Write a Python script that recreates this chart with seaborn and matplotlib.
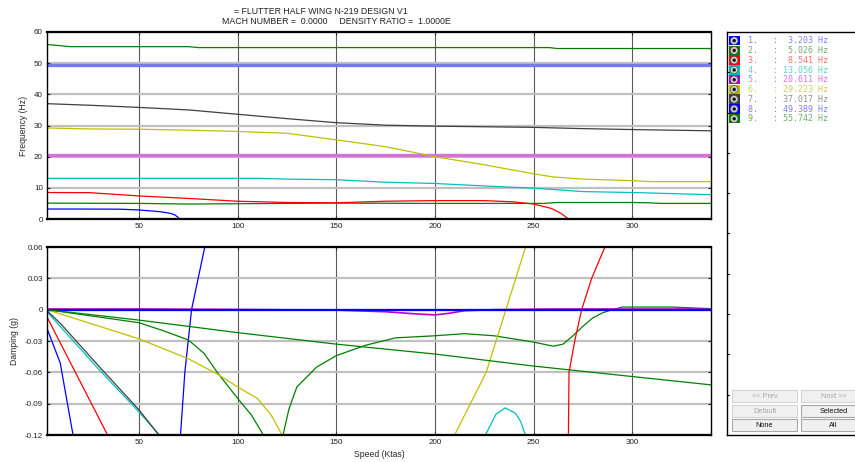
import matplotlib
matplotlib.use("Agg")
import matplotlib.pyplot as plt
import seaborn as sns
from matplotlib.patches import Rectangle, Circle

# ---- frequency curves (speed in Ktas, frequency in Hz)
f1_spd = [3.3, 20, 40, 50, 60.6, 66, 68.2, 70.7, 340]
f1_hz = [3.2, 3.2, 3.15, 2.9, 2.35, 1.8, 1.3, 0, 0]
f2_spd = [3.3, 50, 75, 100, 150, 200, 255, 262, 300, 308, 315, 340]
f2_hz = [5.1, 5.0, 4.8, 4.9, 5.1, 5.0, 5.0, 5.3, 5.3, 5.2, 5.0, 5.0]
f3_spd = [3.3, 25, 50, 75, 100, 125, 150, 175, 200, 225, 240, 250, 259, 264, 267.7, 340]
f3_hz = [8.5, 8.45, 7.4, 6.6, 5.7, 5.3, 5.2, 5.7, 5.9, 5.9, 5.5, 4.8, 3.4, 1.8, 0, 0]
f4_spd = [3.3, 50, 110, 125, 150, 175, 200, 225, 250, 275, 300, 340]
f4_hz = [13.05, 13.05, 13.05, 12.8, 12.6, 11.8, 11.4, 10.6, 9.9, 8.8, 8.5, 7.8]
f5_spd = [3.3, 340]
f5_hz = [20.6, 20.6]
f6_spd = [3.3, 25, 50, 75, 100, 125, 150, 175, 200, 225, 250, 260, 275, 300, 310, 340]
f6_hz = [29.2, 28.9, 28.8, 28.5, 28.1, 27.5, 25.4, 23.2, 20.0, 17.4, 14.5, 13.5, 12.8, 12.3, 12.0, 12.0]
f7_spd = [3.3, 25, 50, 75, 100, 125, 150, 175, 200, 225, 250, 275, 300, 340]
f7_hz = [37.0, 36.5, 35.8, 35.0, 33.6, 32.2, 30.9, 30.1, 29.8, 29.6, 29.4, 29.0, 28.7, 28.3]
f8_spd = [3.3, 340]
f8_hz = [49.4, 49.4]
f9_spd = [3.3, 15, 75, 80, 258, 262, 340]
f9_hz = [56.0, 55.3, 55.3, 55.0, 55.0, 54.7, 54.7]

# ---- damping curves (g); values outside the axis range leave and re-enter
g1_spd = [3.3, 10, 16.5, 30, 50, 65, 71, 73.2, 76.6, 83.3, 90]
g1_g = [-0.018, -0.051, -0.12, -0.25, -0.3, -0.25, -0.12, -0.06, 0.0, 0.06, 0.12]
g2_spd = [3.3, 50, 62, 75, 83, 90, 100, 107, 113, 118, 123, 126, 130, 140, 150, 165, 180,
          200, 215, 230, 250, 260, 265, 270, 275, 280, 285, 290, 295, 320, 340]
g2_g = [0.0, -0.0125, -0.02, -0.029, -0.042, -0.061, -0.085, -0.101, -0.12, -0.14, -0.12,
        -0.095, -0.074, -0.055, -0.044, -0.034, -0.027, -0.025, -0.023, -0.025, -0.031,
        -0.035, -0.033, -0.025, -0.016, -0.008, -0.003, 0.0, 0.0025, 0.0025, 0.001]
g3_spd = [3.3, 34, 60, 150, 250, 266, 267.7, 268, 271, 274.4, 279.5, 286.2, 292]
g3_g = [-0.007, -0.12, -0.25, -0.4, -0.3, -0.18, -0.12, -0.06, -0.029, 0.0, 0.03, 0.06, 0.09]
g4_spd = [3.3, 10, 30, 50, 60.3, 100, 200, 225.6, 231, 235.7, 240.7, 243.5, 245.8, 260]
g4_g = [-0.002, -0.016, -0.058, -0.098, -0.12, -0.2, -0.2, -0.12, -0.1, -0.094, -0.099,
        -0.107, -0.12, -0.2]
g5_spd = [3.3, 50, 100, 150, 175, 190, 200, 207, 215, 230, 260, 340]
g5_g = [0.0006, 0.0006, 0.0002, -0.0004, -0.002, -0.004, -0.005, -0.0035, -0.001, 0.0,
        0.0006, 0.0006]
g6_spd = [3.3, 50, 75, 90, 100, 110, 117, 122.5, 150, 200, 210, 218, 226, 231, 236, 241, 246, 251]
g6_g = [0.0, -0.028, -0.047, -0.062, -0.074, -0.085, -0.101, -0.12, -0.2, -0.2, -0.12,
        -0.09, -0.06, -0.03, 0.0, 0.03, 0.06, 0.09]
g7_spd = [3.3, 10, 30, 50, 60, 70]
g7_g = [-0.001, -0.013, -0.055, -0.096, -0.12, -0.14]
g8_spd = [3.3, 340]
g8_g = [0.0, 0.0]
g9_spd = [3.3, 50, 100, 150, 200, 250, 300, 340]
g9_g = [0.0, -0.010, -0.022, -0.033, -0.0425, -0.054, -0.064, -0.072]

# ---- mode table
mode_freq = [3.203, 5.026, 8.541, 13.056, 20.611, 29.223, 37.017, 49.389, 55.742]
mode_color = ['#0000ff', '#008000', '#ff0000', '#00c0c0', '#c000c0',
              '#c0c000', '#404040', '#0000ff', '#008000']
mode_text_color = ['#8080ff', '#70b070', '#ff7070', '#60d0d0', '#e070e0',
                   '#d0d060', '#909090', '#8080ff', '#70b070']
freq_color = ['#0000ff', '#008000', '#ff0000', '#00c0c0', '#d870d8',
              '#c0c000', '#404040', '#7878f0', '#008000']
freq_width = [0.9, 0.9, 0.9, 0.9, 2.4, 0.9, 0.9, 2.4, 0.9]
damp_width = [0.9, 0.9, 0.9, 0.9, 1.2, 0.9, 0.9, 1.6, 0.9]

freq_ticks = [0, 10, 20, 30, 40, 50, 60]
damp_ticks = [-0.12, -0.09, -0.06, -0.03, 0, 0.03, 0.06]
damp_labels = ['-0.12', '-0.09', '-0.06', '-0.03', '0', '0.03', '0.06']
speed_ticks = [50, 100, 150, 200, 250, 300]

freq_curves = [(f1_spd, f1_hz), (f2_spd, f2_hz), (f3_spd, f3_hz), (f4_spd, f4_hz),
               (f5_spd, f5_hz), (f6_spd, f6_hz), (f7_spd, f7_hz), (f8_spd, f8_hz),
               (f9_spd, f9_hz)]
damp_curves = [(g1_spd, g1_g), (g2_spd, g2_g), (g3_spd, g3_g), (g4_spd, g4_g),
               (g5_spd, g5_g), (g6_spd, g6_g), (g7_spd, g7_g), (g8_spd, g8_g),
               (g9_spd, g9_g)]

sns.set_style("white")
plt.rcParams['font.family'] = ['Liberation Sans', 'DejaVu Sans']

W, H = 855, 462
fig = plt.figure(figsize=(W / 100, H / 100), dpi=100)
ax1 = fig.add_axes([47 / W, 1 - 219 / H, 664 / W, 187 / H])
ax2 = fig.add_axes([47 / W, 1 - 435 / H, 664 / W, 188 / H])


def style_axes(ax, yticks, ylim):
    ax.set_xlim(3.3, 340)
    ax.set_ylim(*ylim)
    ax.set_xticks(speed_ticks)
    ax.set_yticks(yticks)
    ax.set_axisbelow(True)
    ax.xaxis.grid(True, color='#5a5a5a', lw=0.8)
    ax.yaxis.grid(True, color='#c0c0c0', lw=1.6)
    ax.tick_params(direction='in', top=True, right=True, bottom=True, left=True,
                   length=2.5, width=0.8, labelsize=5.8, pad=3, colors='#222222')
    for side in ['left', 'right']:
        ax.spines[side].set_linewidth(1.0)
        ax.spines[side].set_color('black')
    for side in ['top', 'bottom']:
        ax.spines[side].set_linewidth(1.6)
        ax.spines[side].set_color('black')


for i, (x, y) in enumerate(freq_curves):
    sns.lineplot(x=x, y=y, ax=ax1, color=freq_color[i], lw=freq_width[i],
                 sort=False, estimator=None, legend=False)
style_axes(ax1, freq_ticks, (0, 60))
ax1.set_xlabel('')
ax1.set_ylabel('Frequency (Hz)', fontsize=6.2, labelpad=4)

for i, (x, y) in enumerate(damp_curves):
    sns.lineplot(x=x, y=y, ax=ax2, color=mode_color[i], lw=damp_width[i],
                 sort=False, estimator=None, legend=False)
style_axes(ax2, damp_ticks, (-0.12, 0.06))
ax2.set_yticklabels(damp_labels)
ax2.set_xlabel('Speed (Ktas)', fontsize=6.2, labelpad=2.5)
ax2.set_ylabel('Damping (g)', fontsize=6.2, labelpad=4)

fig.text(321 / W, 1 - 11 / H, '= FLUTTER HALF WING N-219 DESIGN V1',
         ha='center', va='center', fontsize=6.3, color='#222222')
fig.text(336 / W, 1 - 22 / H, 'MACH NUMBER =  0.0000     DENSITY RATIO =  1.0000E',
         ha='center', va='center', fontsize=6.3, color='#222222')

# ---- mode selector panel (pixel coordinates)
px0, px1, py0, py1 = 727, 866, 32, 435
axp = fig.add_axes([px0 / W, 1 - py1 / H, (px1 - px0) / W, (py1 - py0) / H])
axp.set_xlim(px0, px1)
axp.set_ylim(py1, py0)
axp.set_xticks([])
axp.set_yticks([])
axp.spines['right'].set_visible(False)
for side in ['left', 'top', 'bottom']:
    axp.spines[side].set_linewidth(1.0)
    axp.spines[side].set_color('black')
for k in range(1, 10):
    ty = py0 + k * (py1 - py0) / 10
    axp.plot([px0, px0 + 1.5], [ty, ty], color='black', lw=0.8)

for i, f in enumerate(mode_freq):
    top = 36 + i * 9.75
    axp.add_patch(Rectangle((729, top), 10.5, 9.3, facecolor=mode_color[i],
                            edgecolor='none'))
    axp.add_patch(Circle((734.2, top + 4.7), 3.8, facecolor='#d0d0d0',
                         edgecolor='#404040', lw=0.4))
    axp.add_patch(Circle((734.2, top + 4.7), 1.7, facecolor='#101010',
                         edgecolor='none'))
    axp.text(748, top + 4.8, f"{i + 1}.   : {f:6.3f} Hz", family='DejaVu Sans Mono',
             fontsize=6, color=mode_text_color[i], va='center', ha='left')

buttons = [('<< Prev', 732, 390, False), ('Next >>', 801, 390, False),
           ('Default', 732, 405, False), ('Selected', 801, 405, True),
           ('None', 732, 419, True), ('All', 801, 419, True)]
for label, bx, by, active in buttons:
    axp.add_patch(Rectangle((bx, by), 65, 12.5, facecolor='#f0f0f0',
                            edgecolor='#a8a8a8' if active else '#d4d4d4', lw=0.8))
    axp.text(bx + 32.5, by + 6.4, label, fontsize=5.3, ha='center', va='center',
             color='#111111' if active else '#a8a8a8')

fig.savefig('out.png', dpi=100)
